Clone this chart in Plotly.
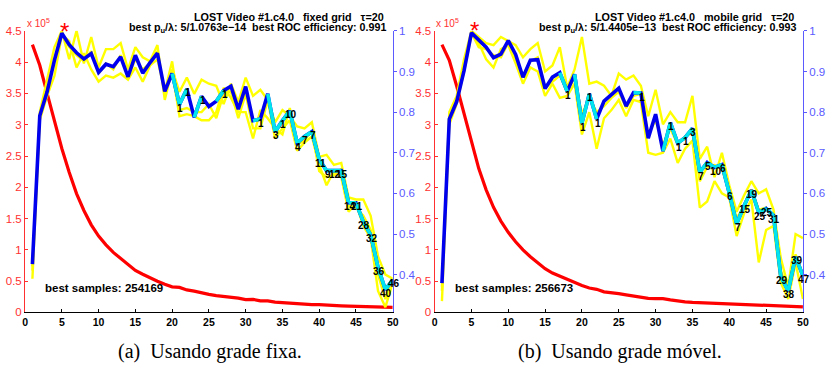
import plotly.graph_objects as go

x = list(range(1, 51))

# ---------------- panel (a) fixed grid ----------------
red_a = [4.28, 3.95, 3.50, 3.05, 2.62, 2.24, 1.90, 1.63, 1.40, 1.22, 1.08, 0.96, 0.86, 0.77, 0.67,
         0.61, 0.55, 0.50, 0.45, 0.41, 0.40, 0.36, 0.34, 0.31, 0.29, 0.27, 0.26, 0.245, 0.23, 0.205,
         0.21, 0.185, 0.185, 0.165, 0.155, 0.155, 0.145, 0.135, 0.125, 0.125, 0.115, 0.115, 0.105,
         0.10, 0.095, 0.09, 0.085, 0.08, 0.08, 0.08]
blue_a = [0.426, 0.791, 0.850, 0.928, 0.994, 0.966, 0.946, 0.931, 0.944, 0.898, 0.918, 0.912, 0.936,
          0.887, 0.940, 0.896, 0.922, 0.945, 0.851, 0.895, 0.819, 0.857, 0.787, 0.839, 0.814, 0.827,
          0.853, 0.864, 0.807, 0.863, 0.779, 0.783, 0.845, 0.752, 0.779, 0.803, 0.724, 0.740, 0.752,
          0.684, 0.656, 0.656, 0.656, 0.577, 0.577, 0.530, 0.498, 0.418, 0.363, 0.387]
yel1_a = [0.42, 0.80, 0.88, 0.96, 1.00, 0.93, 1.00, 0.92, 0.985, 0.91, 0.955, 0.955, 0.97, 0.905,
          0.96, 0.935, 0.925, 0.965, 0.83, 0.905, 0.85, 0.885, 0.845, 0.88, 0.87, 0.865, 0.82, 0.87,
          0.825, 0.885, 0.84, 0.855, 0.83, 0.775, 0.805, 0.79, 0.765, 0.76, 0.775, 0.69, 0.695, 0.67,
          0.675, 0.59, 0.585, 0.585, 0.545, 0.445, 0.40, 0.39]
yel2_a = [0.39, 0.78, 0.84, 0.89, 0.99, 0.975, 0.91, 0.945, 0.905, 0.875, 0.89, 0.885, 0.895, 0.88,
          0.91, 0.875, 0.915, 0.93, 0.85, 0.925, 0.805, 0.81, 0.80, 0.80, 0.82, 0.785, 0.845, 0.85,
          0.785, 0.845, 0.76, 0.76, 0.83, 0.735, 0.76, 0.78, 0.705, 0.725, 0.74, 0.67, 0.62, 0.655,
          0.64, 0.555, 0.575, 0.52, 0.49, 0.36, 0.32, 0.38]
yel3_a = [0.41, 0.79, 0.85, 0.93, 0.995, 0.96, 0.94, 0.925, 0.95, 0.895, 0.92, 0.905, 0.94, 0.885,
          0.93, 0.905, 0.92, 0.95, 0.845, 0.90, 0.79, 0.795, 0.79, 0.78, 0.78, 0.80, 0.86, 0.835, 0.80,
          0.80, 0.735, 0.805, 0.785, 0.76, 0.745, 0.81, 0.72, 0.73, 0.755, 0.655, 0.64, 0.645, 0.66,
          0.57, 0.565, 0.545, 0.51, 0.40, 0.34, 0.39]
lab_x_a = [21, 22, 24, 27, 32, 34, 35, 36, 37, 38, 39, 40, 41, 42, 43, 44, 45, 46, 47, 48, 49, 50]
lab_t_a = ["1", "1", "1", "1", "1", "3", "1", "10", "4", "7", "7", "11", "9", "12", "15", "14", "21",
           "28", "32", "36", "40", "46"]

# ---------------- panel (b) mobile grid ----------------
red_b = [4.28, 4.03, 3.62, 3.18, 2.72, 2.30, 1.96, 1.68, 1.46, 1.28, 1.13, 1.00, 0.89, 0.79, 0.70,
         0.63, 0.58, 0.52, 0.47, 0.43, 0.39, 0.37, 0.33, 0.32, 0.30, 0.28, 0.26, 0.245, 0.225, 0.22,
         0.22, 0.20, 0.18, 0.17, 0.16, 0.155, 0.15, 0.14, 0.14, 0.13, 0.125, 0.12, 0.115, 0.115, 0.11,
         0.105, 0.095, 0.095, 0.09, 0.09]
blue_b = [0.379, 0.783, 0.826, 0.902, 0.995, 0.977, 0.960, 0.934, 0.943, 0.976, 0.942, 0.886, 0.928,
          0.929, 0.858, 0.886, 0.897, 0.851, 0.893, 0.773, 0.845, 0.783, 0.827, 0.843, 0.859, 0.815,
          0.848, 0.847, 0.736, 0.795, 0.704, 0.774, 0.724, 0.737, 0.760, 0.652, 0.676, 0.664, 0.671,
          0.601, 0.525, 0.569, 0.608, 0.553, 0.563, 0.546, 0.395, 0.360, 0.444, 0.397]
yel1_b = [0.37, 0.80, 0.84, 0.93, 1.00, 0.985, 0.97, 0.965, 0.985, 0.975, 0.965, 0.935, 0.955, 0.97,
          0.90, 0.915, 0.96, 0.86, 0.905, 0.985, 0.87, 0.875, 0.865, 0.84, 0.895, 0.88, 0.89, 0.865,
          0.79, 0.855, 0.77, 0.80, 0.775, 0.775, 0.84, 0.685, 0.715, 0.64, 0.70, 0.62, 0.555, 0.595,
          0.63, 0.60, 0.61, 0.56, 0.44, 0.37, 0.50, 0.49]
yel2_b = [0.335, 0.77, 0.82, 0.90, 0.99, 0.97, 0.93, 0.91, 0.955, 0.965, 0.92, 0.87, 0.91, 0.90,
          0.84, 0.87, 0.835, 0.84, 0.87, 0.745, 0.80, 0.71, 0.785, 0.805, 0.83, 0.79, 0.83, 0.825,
          0.70, 0.695, 0.70, 0.735, 0.675, 0.71, 0.73, 0.565, 0.58, 0.63, 0.60, 0.59, 0.495, 0.55,
          0.585, 0.43, 0.51, 0.52, 0.38, 0.34, 0.43, 0.34]
yel3_b = [0.36, 0.79, 0.83, 0.91, 0.995, 0.96, 0.955, 0.94, 0.935, 0.97, 0.93, 0.89, 0.925, 0.935,
          0.86, 0.875, 0.89, 0.85, 0.885, 0.795, 0.835, 0.80, 0.815, 0.835, 0.85, 0.81, 0.84, 0.845,
          0.745, 0.78, 0.72, 0.76, 0.72, 0.74, 0.75, 0.63, 0.665, 0.67, 0.66, 0.605, 0.54, 0.565, 0.61,
          0.56, 0.565, 0.545, 0.41, 0.36, 0.45, 0.40]
lab_x_b = [18, 20, 21, 22, 28, 32, 33, 34, 35, 36, 37, 38, 39, 40, 41, 42, 43, 44, 45, 46, 47, 48, 49, 50]
lab_t_b = ["1", "1", "1", "1", "1", "1", "1", "1", "3", "7", "5", "10", "6", "6", "7", "15", "19",
           "25", "25", "31", "29", "38", "39", "47"]

best_x = 5
left_ticks = [0, 0.5, 1, 1.5, 2, 2.5, 3, 3.5, 4, 4.5]
right_ticks = [0.4, 0.5, 0.6, 0.7, 0.8, 0.9, 1.0]
right_labels = ["0.4", "0.5", "0.6", "0.7", "0.8", "0.9", "1"]
x_ticks = [0, 5, 10, 15, 20, 25, 30, 35, 40, 45, 50]

panels = [
    dict(red=red_a, blue=blue_a, yel=[yel1_a, yel2_a, yel3_a], lx=lab_x_a, lt=lab_t_a,
         xa="x", ya="y", yb="y2",
         t1="LOST Video #1.c4.0   fixed grid   τ=20",
         t2="best p<sub>u</sub>/λ: 5/1.0763e−14  best ROC efficiency: 0.991",
         samples="best samples: 254169", cap="(a)  Usando grade fixa."),
    dict(red=red_b, blue=blue_b, yel=[yel1_b, yel2_b, yel3_b], lx=lab_x_b, lt=lab_t_b,
         xa="x2", ya="y3", yb="y4",
         t1="LOST Video #1.c4.0   mobile grid   τ=20",
         t2="best p<sub>u</sub>/λ: 5/1.4405e−13  best ROC efficiency: 0.993",
         samples="best samples: 256673", cap="(b)  Usando grade móvel."),
]

RED = "#ff0000"
AXRED = "#ff3030"
AXBLUE = "#5a5aff"
YEL = "#ffff00"
BLUE = "#0000ee"
CYAN = "#00e5ee"
FONT = "Liberation Sans"

fig = go.Figure()
annotations = []
for p in panels:
    fig.add_trace(go.Scatter(x=x, y=p["red"], mode="lines", line=dict(color=RED, width=3.2),
                             xaxis=p["xa"], yaxis=p["ya"], showlegend=False, hoverinfo="skip"))
    for ys in p["yel"]:
        fig.add_trace(go.Scatter(x=x, y=ys, mode="lines", line=dict(color=YEL, width=2.4),
                                 xaxis=p["xa"], yaxis=p["yb"], showlegend=False, hoverinfo="skip"))
    fig.add_trace(go.Scatter(x=x, y=p["blue"], mode="lines", line=dict(color=BLUE, width=3.6),
                             xaxis=p["xa"], yaxis=p["yb"], showlegend=False, hoverinfo="skip"))
    cx, cy = [], []
    for lx in p["lx"]:
        i = lx - 1
        cx += [x[i - 1], x[i], None]
        cy += [p["blue"][i - 1], p["blue"][i], None]
    fig.add_trace(go.Scatter(x=cx, y=cy, mode="lines", line=dict(color=CYAN, width=3.6),
                             xaxis=p["xa"], yaxis=p["yb"], showlegend=False, hoverinfo="skip"))
    for lx, lt in zip(p["lx"], p["lt"]):
        annotations.append(dict(x=lx, y=p["blue"][lx - 1], xref=p["xa"], yref=p["yb"], text=lt,
                                showarrow=False, xshift=1, yshift=-4,
                                font=dict(family=FONT, size=10, color="black", weight="bold")))
    # best marker (red asterisk just above the peak)
    annotations.append(dict(x=best_x, y=p["blue"][best_x - 1], xref=p["xa"], yref=p["yb"], text="*",
                            showarrow=False, xshift=3, yshift=2,
                            font=dict(family=FONT, size=24, color=RED)))

fig.update_layout(annotations=annotations)

xd = [[22.3 / 832, 394.0 / 832], [436.3 / 832, 808.7 / 832]]
ydom = [1 - 316.7 / 371, 1 - 25.7 / 371]

common_x = dict(range=[0, 50], tickvals=x_ticks, showline=True, linecolor="black", linewidth=1,
                ticks="inside", ticklen=3, tickcolor="black", showgrid=False, zeroline=False,
                tickfont=dict(family=FONT, size=10.5, color="black", weight="bold"))
common_yl = dict(range=[0, 4.5], tickvals=left_ticks, showline=True, linecolor=AXRED, linewidth=1,
                 ticks="inside", ticklen=3, tickcolor=AXRED, showgrid=False, zeroline=False,
                 tickfont=dict(family=FONT, size=11.5, color=AXRED), domain=ydom)
common_yr = dict(range=[0.307, 1.0], tickvals=right_ticks, ticktext=right_labels,
                 showline=True, linecolor=AXBLUE, linewidth=1, side="right",
                 ticks="outside", ticklen=3, tickcolor=AXBLUE, showgrid=False, zeroline=False,
                 tickfont=dict(family=FONT, size=11.5, color=AXBLUE), domain=ydom)

fig.update_layout(
    width=832, height=371, margin=dict(l=0, r=0, t=0, b=0),
    paper_bgcolor="white", plot_bgcolor="white",
    xaxis=dict(domain=xd[0], anchor="y", **common_x),
    xaxis2=dict(domain=xd[1], anchor="y3", **common_x),
    yaxis=dict(anchor="x", **common_yl),
    yaxis2=dict(anchor="x", overlaying="y", **common_yr),
    yaxis3=dict(anchor="x2", **common_yl),
    yaxis4=dict(anchor="x2", overlaying="y3", **common_yr),
)

for k, p in enumerate(panels):
    x0, x1 = xd[k]
    right_px = [387.5, 802.0][k]
    fig.add_annotation(x=right_px / 832, y=1 - 11 / 371, xref="paper", yref="paper", xanchor="right",
                       yanchor="middle", text=p["t1"], showarrow=False,
                       font=dict(family=FONT, size=10.8, color="black", weight="bold"))
    fig.add_annotation(x=(right_px + 1.5) / 832, y=1 - 23 / 371, xref="paper", yref="paper", xanchor="right",
                       yanchor="middle", text=p["t2"], showarrow=False,
                       font=dict(family=FONT, size=10.7, color="black", weight="bold"))
    fig.add_annotation(x=x0 - 0.5 / 832, y=1 - 18 / 371, xref="paper", yref="paper", xanchor="left",
                       yanchor="middle", text="x 10<sup>5</sup>", showarrow=False,
                       font=dict(family=FONT, size=10, color=AXRED))
    fig.add_annotation(x=[40.7, 455.3][k] / 832, y=1 - 291.7 / 371, xref="paper", yref="paper",
                       xanchor="left", yanchor="middle", text=p["samples"], showarrow=False,
                       font=dict(family=FONT, size=11.5, color="black", weight="bold"))
    fig.add_annotation(x=[209, 624][k] / 832, y=1 - 357.5 / 371, xref="paper", yref="paper",
                       xanchor="center", yanchor="middle", text=p["cap"], showarrow=False,
                       font=dict(family="Liberation Serif", size=20, color="black"))

fig.write_html("out.html")
